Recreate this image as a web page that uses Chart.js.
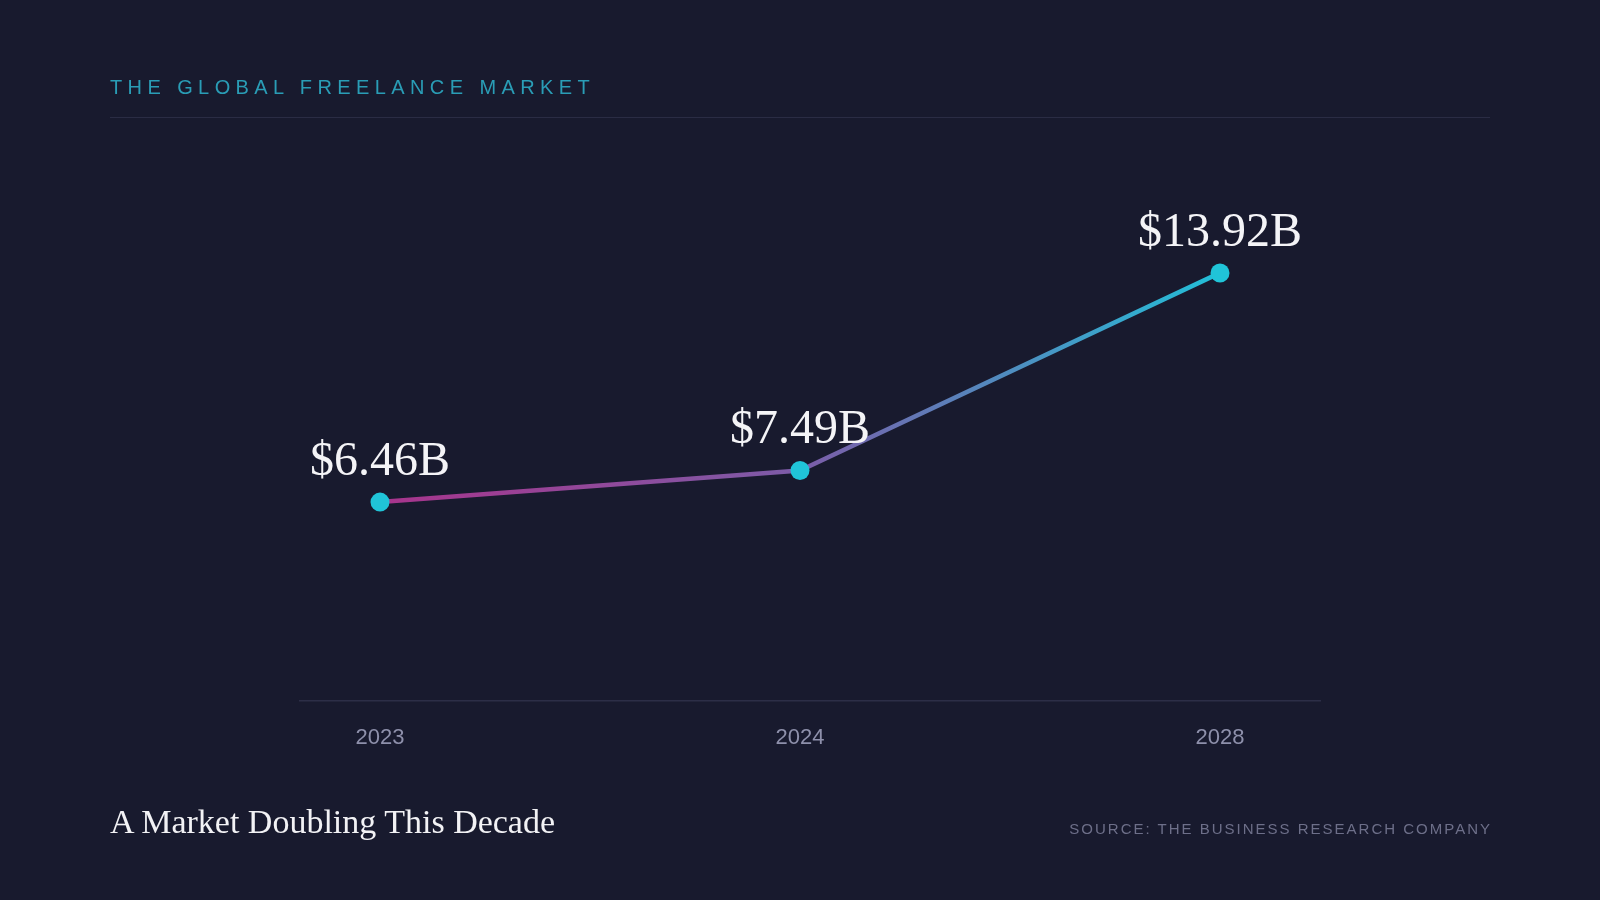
<!DOCTYPE html>
<html>
<head>
<meta charset="utf-8">
<title>The Global Freelance Market</title>
<script src="https://cdn.jsdelivr.net/npm/chart.js@4.4.1/dist/chart.umd.min.js"></script>
<style>
  html, body {
    margin: 0;
    padding: 0;
    background: #181a2e;
    width: 1600px;
    height: 900px;
    overflow: hidden;
  }
  #marketChart {
    position: absolute;
    left: 0;
    top: 0;
  }
  .kicker {
    position: absolute;
    left: 110px;
    top: 77px;
    font-family: "Liberation Sans", Arial, sans-serif;
    font-size: 20px;
    line-height: 20px;
    letter-spacing: 5.4px;
    color: #2a9db6;
  }
  .rule {
    position: absolute;
    left: 110px;
    top: 117px;
    width: 1380px;
    height: 1px;
    background: #2a2c44;
  }
  .headline {
    position: absolute;
    left: 110px;
    top: 805px;
    font-family: "Liberation Serif", Georgia, serif;
    font-size: 34px;
    line-height: 34px;
    color: #f2f2f5;
  }
  .source {
    position: absolute;
    right: 108px;
    top: 821px;
    font-family: "Liberation Sans", Arial, sans-serif;
    font-size: 15px;
    line-height: 15px;
    letter-spacing: 2px;
    color: #6d6f89;
  }
</style>
</head>
<body>
<canvas id="marketChart" width="1600" height="900"></canvas>
<div class="kicker">THE GLOBAL FREELANCE MARKET</div>
<div class="rule"></div>
<div class="headline">A Market Doubling This Decade</div>
<div class="source">SOURCE: THE BUSINESS RESEARCH COMPANY</div>

<script>
// market size, billions USD
const years = ["2023", "2024", "2028"];
const marketValues = [6.46, 7.49, 13.92];
const valueLabels = ["$6.46B", "$7.49B", "$13.92B"];

// years sit on evenly spaced slots, so x is the slot index
const points = marketValues.map((v, i) => ({ x: i, y: v }));

// line goes magenta -> purple -> cyan from first point to last
function lineGradient(context) {
  const chart = context.chart;
  const xScale = chart.scales.x;
  if (!chart.chartArea || !xScale) {
    return "#7c5ca8";
  }
  const x0 = xScale.getPixelForValue(0);
  const x1 = xScale.getPixelForValue(years.length - 1);
  const g = chart.ctx.createLinearGradient(x0, 0, x1, 0);
  g.addColorStop(0, "#a8348c");
  g.addColorStop(0.5, "#7c5ca8");
  g.addColorStop(1, "#22bfd8");
  return g;
}

// big serif value above each point
const valueLabelPlugin = {
  id: "valueLabels",
  afterDatasetsDraw(chart) {
    const ctx = chart.ctx;
    const meta = chart.getDatasetMeta(0);
    ctx.save();
    ctx.font = "48px 'Liberation Serif', Georgia, serif";
    ctx.fillStyle = "#f4f4f7";
    ctx.textAlign = "center";
    ctx.textBaseline = "alphabetic";
    meta.data.forEach((pt, i) => {
      ctx.fillText(valueLabels[i], pt.x, pt.y - 27);
    });
    ctx.restore();
  },
};

const ctx = document.getElementById("marketChart").getContext("2d");
const chart = new Chart(ctx, {
  type: "line",
  data: {
    datasets: [
      {
        label: "Market size",
        data: points,
        borderColor: lineGradient,
        borderWidth: 4.5,
        tension: 0,
        fill: false,
        pointRadius: 9.5,
        pointHoverRadius: 9.5,
        pointBackgroundColor: "#20c4d8",
        pointBorderWidth: 0,
        clip: false,
      },
    ],
  },
  options: {
    responsive: false,
    animation: false,
    devicePixelRatio: 1,
    layout: {
      padding: { top: 209, left: 300, right: 280, bottom: 125 },
    },
    plugins: {
      legend: { display: false },
      tooltip: { enabled: false },
    },
    scales: {
      x: {
        type: "linear",
        min: -80 / 420,
        max: 2 + 100 / 420,
        afterBuildTicks: (scale) => {
          scale.ticks = years.map((_, i) => ({ value: i }));
        },
        grid: { display: false, drawTicks: false },
        border: { display: true, color: "#2c2e47", width: 1.5 },
        ticks: {
          padding: 24,
          color: "#8e90ab",
          font: { family: "'Liberation Sans', Arial, sans-serif", size: 22 },
          maxRotation: 0,
          autoSkip: false,
          callback: (value) => years[value],
        },
      },
      y: {
        display: false,
        min: 0,
        max: 16,
      },
    },
  },
  plugins: [valueLabelPlugin],
});
</script>
</body>
</html>
